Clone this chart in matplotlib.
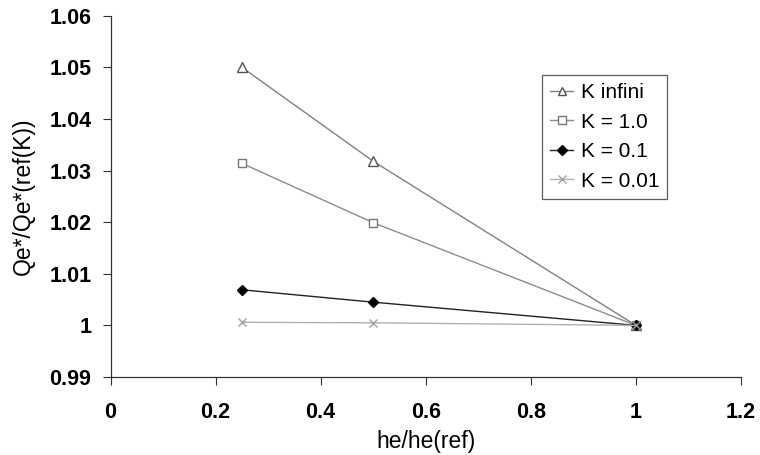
import matplotlib
matplotlib.use("Agg")
import matplotlib.pyplot as plt

x = [0.25, 0.5, 1.0]
k_inf = [1.0500, 1.0318, 1.0000]
k_1 = [1.0314, 1.0199, 1.0000]
k_01 = [1.0069, 1.0045, 1.0000]
k_001 = [1.0006, 1.0005, 1.0000]
labels = ["K infini", "K = 1.0", "K = 0.1", "K = 0.01"]
xticks = [0, 0.2, 0.4, 0.6, 0.8, 1, 1.2]
xticklabels = ["0", "0.2", "0.4", "0.6", "0.8", "1", "1.2"]
yticks = [0.99, 1.0, 1.01, 1.02, 1.03, 1.04, 1.05, 1.06]
yticklabels = ["0.99", "1", "1.01", "1.02", "1.03", "1.04", "1.05", "1.06"]

plt.rcParams['font.family'] = ['Liberation Sans', 'DejaVu Sans']

fig = plt.figure(figsize=(7.6, 4.55), dpi=100)
ax = fig.add_axes([0.1454, 0.1714, 0.8296, 0.7941])

ax.plot(x, k_inf, color='#808080', lw=1.0, marker='^', ms=7, mfc='white',
        mec='#555555', mew=1.0, label=labels[0])
ax.plot(x, k_1, color='#8c8c8c', lw=1.0, marker='s', ms=6, mfc='white',
        mec='#777777', mew=1.0, label=labels[1])
ax.plot(x, k_01, color='#222222', lw=1.0, marker='D', ms=5.5, mfc='black',
        mec='black', label=labels[2])
ax.plot(x, k_001, color='#b0b0b0', lw=1.0, marker='x', ms=6, mec='#a0a0a0',
        mew=1.0, label=labels[3])

ax.set_xlim(0, 1.2)
ax.set_ylim(0.99, 1.06)
ax.set_xticks(xticks)
ax.set_xticklabels(xticklabels, fontsize=15.5, fontweight='bold')
ax.set_yticks(yticks)
ax.set_yticklabels(yticklabels, fontsize=15.5, fontweight='bold')
ax.tick_params(direction='out', length=5.8, width=0.8, color='#333333')
ax.tick_params(axis='x', pad=12)
ax.tick_params(axis='y', pad=8)
ax.spines['top'].set_visible(False)
ax.spines['right'].set_visible(False)
for s in ('left', 'bottom'):
    ax.spines[s].set_color('#333333')
    ax.spines[s].set_linewidth(0.9)

ax.set_xlabel('he/he(ref)', fontsize=16.5, labelpad=5)
ax.set_ylabel('Qe*/Qe*(ref(K))', fontsize=16.5, labelpad=10)

leg = ax.legend(loc='upper left', bbox_to_anchor=(0.6845, 0.836), fontsize=15,
                frameon=True, fancybox=False, edgecolor='#333333',
                handlelength=1.1, handletextpad=0.35, borderpad=0.4,
                labelspacing=0.5, borderaxespad=0, markerscale=0.85)
leg.get_frame().set_linewidth(0.9)

fig.savefig('out.png', dpi=100)
